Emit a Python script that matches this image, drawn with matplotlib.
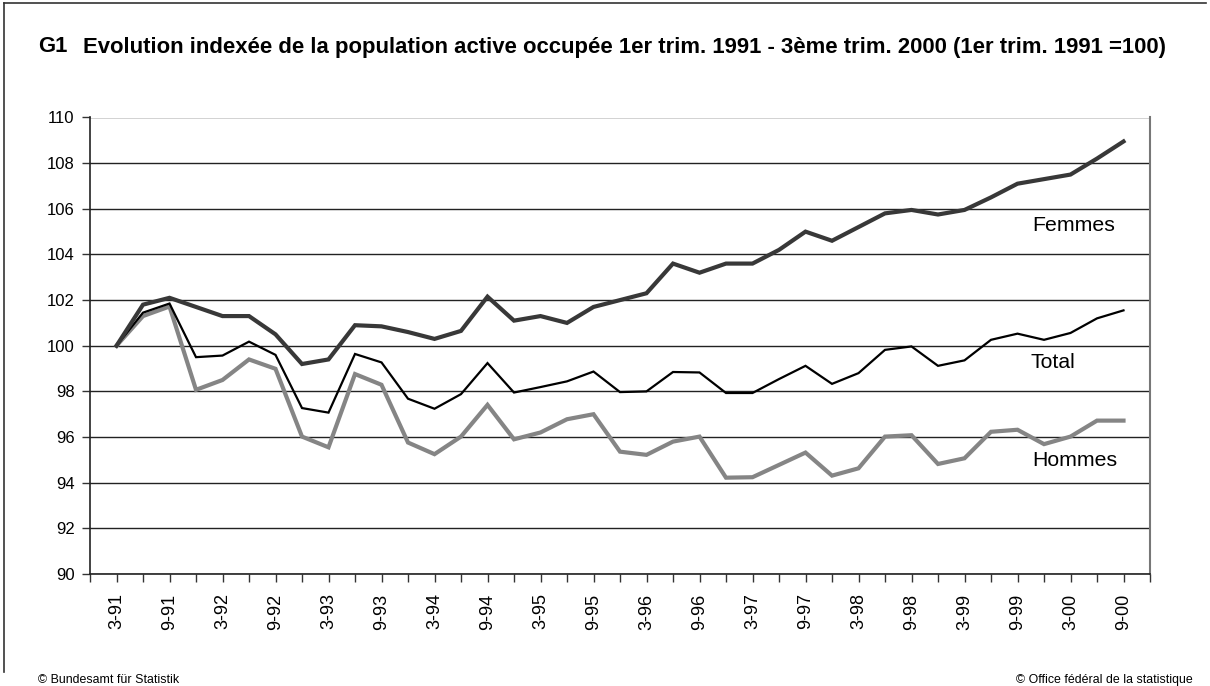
import matplotlib
matplotlib.use("Agg")
import matplotlib.pyplot as plt
from matplotlib.lines import Line2D

plt.rcParams['font.family'] = ['Liberation Sans', 'DejaVu Sans']

# quarters 1991 Q1 .. 2000 Q3
quarters = ['3-91', '6-91', '9-91', '12-91', '3-92', '6-92', '9-92', '12-92',
            '3-93', '6-93', '9-93', '12-93', '3-94', '6-94', '9-94', '12-94',
            '3-95', '6-95', '9-95', '12-95', '3-96', '6-96', '9-96', '12-96',
            '3-97', '6-97', '9-97', '12-97', '3-98', '6-98', '9-98', '12-98',
            '3-99', '6-99', '9-99', '12-99', '3-00', '6-00', '9-00']

femmes = [100.0, 101.8, 102.1, 101.7, 101.3, 101.3, 100.5, 99.2, 99.4, 100.9,
          100.85, 100.6, 100.3, 100.65, 102.15, 101.1, 101.3, 101.0, 101.7, 102.0,
          102.3, 103.6, 103.2, 103.6, 103.6, 104.2, 105.0, 104.6, 105.2, 105.8,
          105.95, 105.75, 105.95, 106.5, 107.1, 107.3, 107.5, 108.2, 108.95]

total = [100.0, 101.45, 101.85, 99.5, 99.57, 100.18, 99.6, 97.27, 97.07, 99.64,
         99.27, 97.68, 97.24, 97.88, 99.24, 97.95, 98.19, 98.44, 98.87, 97.97,
         98.0, 98.85, 98.83, 97.93, 97.93, 98.54, 99.12, 98.33, 98.8, 99.82,
         99.97, 99.12, 99.36, 100.26, 100.53, 100.26, 100.56, 101.2, 101.55]

hommes = [100.0, 101.3, 101.72, 98.07, 98.5, 99.4, 98.99, 96.02, 95.55, 98.76,
          98.29, 95.76, 95.25, 96.02, 97.41, 95.9, 96.2, 96.78, 97.0, 95.36,
          95.22, 95.8, 96.02, 94.22, 94.24, 94.78, 95.32, 94.31, 94.63, 96.02,
          96.08, 94.82, 95.07, 96.23, 96.32, 95.69, 96.02, 96.72, 96.72]

fig = plt.figure(figsize=(12.1, 6.86), dpi=100)
ax = fig.add_axes([90/1210, 112/686, 1060/1210, 456.5/686])

x = list(range(len(quarters)))
ax.plot(x, hommes, color='#858585', lw=3.0, solid_joinstyle='miter', zorder=3)
ax.plot(x, total, color='black', lw=1.6, solid_joinstyle='miter', zorder=4)
ax.plot(x, femmes, color='#383838', lw=3.0, solid_joinstyle='miter', zorder=5)

ax.set_xlim(-1, len(quarters))
ax.set_ylim(90, 110)
ax.set_yticks(range(90, 111, 2))
ax.yaxis.grid(True, color='#222222', lw=1.0)
ax.set_axisbelow(True)

ticks = list(range(-1, len(quarters) + 1))
labels = [quarters[t] if 0 <= t < len(quarters) and t % 2 == 0 else '' for t in ticks]
ax.set_xticks(ticks)
ax.set_xticklabels(labels, rotation=90, fontsize=13)
ax.tick_params(axis='x', length=6, width=1, pad=8, color='#333333')
ax.tick_params(axis='y', length=6, width=1, pad=5, labelsize=12, color='#333333')

for s in ['left', 'bottom']:
    ax.spines[s].set_color('#222222')
    ax.spines[s].set_linewidth(1.2)
ax.spines['top'].set_visible(False)
ax.spines['right'].set_color('#777777')
ax.spines['right'].set_linewidth(1.5)

ax.text(34.55, 105.26, 'Femmes', fontsize=15.3, va='center', ha='left')
ax.text(34.5, 99.25, 'Total', fontsize=15.3, va='center', ha='left')
ax.text(34.55, 94.96, 'Hommes', fontsize=15.3, va='center', ha='left')

fig.text(38/1210, 1 - 47/686, 'G1', fontsize=15.9, weight='bold', va='center')
fig.text(83/1210, 1 - 47/686,
         'Evolution indexée de la population active occupée 1er trim. 1991 - '
         '3ème trim. 2000 (1er trim. 1991 =100)',
         fontsize=15.9, weight='bold', va='center')

fig.text(38/1210, 1 - 680/686, '© Bundesamt für Statistik', fontsize=8.9, va='center')
fig.text(1193/1210, 1 - 680/686, '© Office fédéral de la statistique',
         fontsize=8.9, va='center', ha='right')

# outer frame (top and left edges)
fig.add_artist(Line2D([4/1210, 1206/1210], [1 - 3/686, 1 - 3/686],
                      transform=fig.transFigure, color='#333333', lw=1.2))
fig.add_artist(Line2D([4/1210, 4/1210], [1 - 3/686, 1 - 672/686],
                      transform=fig.transFigure, color='#333333', lw=1.2))

fig.savefig('out.png', dpi=100)
